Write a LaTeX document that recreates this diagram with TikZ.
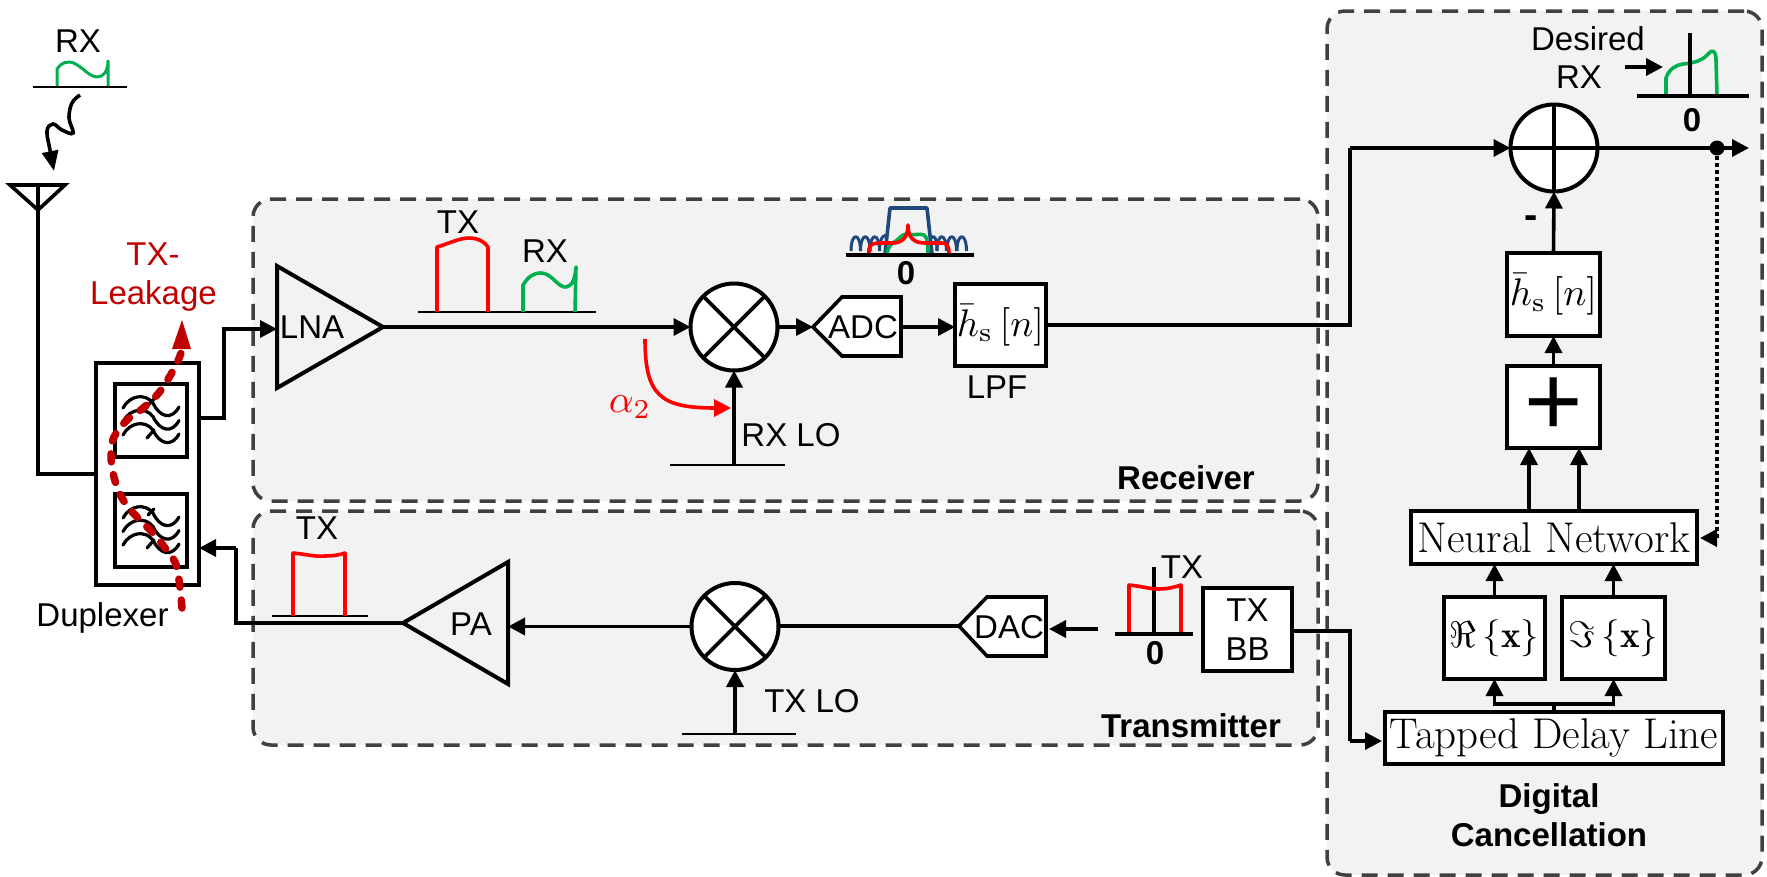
\documentclass[tikz,border=0pt]{standalone}
\usepackage{fontspec}
\setsansfont{Liberation Sans}
\usetikzlibrary{arrows.meta,calc}
\definecolor{grpfill}{HTML}{F2F2F2}
\definecolor{grpline}{HTML}{404040}
\definecolor{leak}{HTML}{C00000}
\definecolor{sgreen}{HTML}{00B050}
\definecolor{sred}{HTML}{FF0000}
\definecolor{sblue}{HTML}{1F497D}
\tikzset{
  grp/.style={draw=grpline,fill=grpfill,line width=3.5pt,rounded corners=18pt,dash pattern=on 16pt off 10pt,inner sep=0pt,outer sep=0pt},
  boxn/.style={draw=black,fill=white,line width=4pt,inner sep=0pt,outer sep=0pt,line join=miter},
  circn/.style={circle,draw=black,fill=white,line width=4pt,minimum size=87pt,inner sep=0pt,outer sep=0pt},
  wire/.style={line width=3.6pt,line join=miter},
  arr/.style={line width=3.6pt,line join=miter,-{Triangle[length=17pt,width=17pt]}},
  poly/.style={draw=black,line width=4pt,line join=miter},
  lab/.style={font=\sffamily\fontsize{33}{33}\selectfont,inner sep=0pt,text height=23.6pt,text depth=0pt},
  blab/.style={font=\sffamily\bfseries\fontsize{33}{33}\selectfont,inner sep=0pt,text height=23.6pt,text depth=0pt},
  rmlab/.style={font=\fontsize{43}{43}\selectfont},
  base/.style={line width=2pt},
  basethick/.style={line width=4pt},
  sp/.style={line width=3.6pt,line join=round},
}
\newcommand{\fwaves}[1]{%
  \begin{scope}[shift={(0,#1)}]
    \foreach \dy in {0,13.5,27}{
      \draw[line width=3.2pt,line cap=round] (123,{408+\dy}) .. controls (130,{395+\dy}) and (145,{393+\dy}) .. (153,{403+\dy}) .. controls (160,{418+\dy}) and (172,{420+\dy}) .. (179,{407+\dy});
    }
    \draw[line width=3.2pt,line cap=round] (154,399) -- (148,405);
    \draw[line width=3.2pt,line cap=round] (154,430) -- (147,438);
  \end{scope}}
\begin{document}
\begin{tikzpicture}[x=1pt,y=-1pt]
\useasboundingbox (0,0) rectangle (1767,876);
% groups
\node[grp,minimum width=435pt,minimum height=864pt] (dig) at (1544.5,443) {};
\node[grp,minimum width=1065pt,minimum height=302pt] (rxg) at (785.5,350) {};
\node[grp,minimum width=1065pt,minimum height=234pt] (txg) at (785.5,628) {};
\node[blab] (rxt) at (1186,478) {Receiver};
\node[blab] (txt) at (1191,726) {Transmitter};
\node[blab] (dg1) at (1549,796) {Digital};
\node[blab] (dg2) at (1549,835) {Cancellation};

% antenna and incoming signal
\node[lab] (rxtop) at (78,41) {RX};
\coordinate (rb1) at (33,86.5); \coordinate (rb2) at (127,86.5);
\draw[base] (rb1) -- (rb2);
\draw[sp,sgreen,line width=3pt] (57,86) -- (57,69) .. controls (60,65) and (63,62) .. (69,62) .. controls (79,62) and (88,77) .. (97,77) .. controls (103,77) and (108,72) .. (108,61) -- (108,86);
\coordinate (ztop) at (80,95); \coordinate (ztip) at (54,171);
\draw[line width=3.6pt,-{Triangle[length=20pt,width=16pt]}] plot[smooth,tension=0.65] coordinates {(ztop) (72,103) (69,118) (73,133) (62,130) (53,124) (47,131) (50,150) (ztip)};
\coordinate (ant1) at (10,185); \coordinate (ant2) at (65,185); \coordinate (ant3) at (38,210);
\draw[poly,line width=3.6pt] (ant1) -- (ant2) -- (ant3) -- cycle;
\coordinate (anttop) at (38,185); \coordinate (antcorner) at (38,474);

% duplexer
\node[boxn,minimum width=103pt,minimum height=222pt] (dup) at (147.5,474) {};
\node[boxn,minimum width=72pt,minimum height=73pt] (f1) at (151,420.5) {};
\node[boxn,minimum width=72pt,minimum height=73pt] (f2) at (151,530.5) {};
\fwaves{0}\fwaves{110}
\draw[wire] (anttop) -- (antcorner) -- (dup.west);
\node[lab] (dupl) at (102.5,615) {Duplexer};

% LNA
\coordinate (l1) at (277,266); \coordinate (l2) at (383,327); \coordinate (l3) at (277,388);
\draw[poly] (l1) -- (l2) -- (l3) -- cycle;
\node[lab] (lna) at (312,327) {LNA};
\coordinate (dupo) at (199,418); \coordinate (dupc) at (224,418); \coordinate (lnai) at (277,329);
\draw[arr] (dupo) -- (dupc) -- (dupc |- lnai) -- (lnai);

% RX chain
\node[circn] (mrx) at (734,327) {};
\draw[line width=3.6pt] (mrx.45) -- (mrx.225) (mrx.135) -- (mrx.315);
\draw[arr] (l2) -- (mrx.west);
\coordinate (a1) at (813,327); \coordinate (a2) at (842,297); \coordinate (a3) at (901,297); \coordinate (a4) at (901,356); \coordinate (a5) at (842,356);
\draw[poly,fill=white,line width=3.6pt] (a1) -- (a2) -- (a3) -- (a4) -- (a5) -- cycle;
\node[lab] (adc) at (863,327) {ADC};
\draw[arr] (mrx.east) -- (a1);
\node[boxn,minimum width=91pt,minimum height=82pt] (lpf) at (1000.5,325) {\scalebox{3.85}{$\bar{h}_{\mathrm{s}}\,[n]$}};
\draw[arr] (a3 |- a1) -- (lpf.west |- a1);
\node[lab] (lpfl) at (997,387) {LPF};
% RX LO
\coordinate (lob1) at (670,465); \coordinate (lob2) at (785,465); \coordinate (lob) at (734,465);
\draw[base] (lob1) -- (lob2);
\draw[arr] (lob) -- (mrx.south);
\node[lab] (rxlo) at (791,435) {RX LO};
% alpha
\coordinate (al1) at (645,339); \coordinate (al2) at (731,408);
\draw[line width=3.6pt,sred,-{Triangle[length=17pt,width=17pt]}] (al1) .. controls (645,395) and (660,408) .. (al2);
\node[text=sred,inner sep=0pt] (alpha) at (630,407) {\scalebox{3.9}{$\alpha_2$}};
% RX spectra
\node[lab] (txs) at (458,222) {TX};
\node[lab] (rxs) at (545,251) {RX};
\coordinate (sb1) at (418,312); \coordinate (sb2) at (596,312);
\draw[base] (sb1) -- (sb2);
\draw[sp,sred] (437,312) -- (437,247) .. controls (450,243) and (460,238) .. (469,238) .. controls (478,238) and (485,242) .. (488,247) -- (488,312);
\draw[sp,sgreen] (523,312) -- (523,285) .. controls (528,277) and (533,273) .. (541,273) .. controls (552,273) and (558,288) .. (566,287) .. controls (572,286) and (575,280) .. (576,267) -- (575,312);
% ADC spectrum
\coordinate (ab1) at (846,255); \coordinate (ab2) at (974,255);
\draw[sp,sblue] (885,254) -- (890,208) -- (927,208) -- (932,254);
\foreach \x in {851,860.5,870}{\draw[sp,sblue,line width=3pt] (\x,251) .. controls (\x,232) and (\x+9.5,232) .. (\x+9.5,251);}
\draw[sp,sblue,line width=3pt] (879.5,251) .. controls (879.5,236) and (885,234) .. (887,236);
\foreach \x in {937,947,957}{\draw[sp,sblue,line width=3pt] (\x,251) .. controls (\x,232) and (\x+9.5,232) .. (\x+9.5,251);}
\draw[sp,sblue,line width=3pt] (931,238) .. controls (934,234) and (937,238) .. (937,251);
\draw[sp,sgreen] (887,254) .. controls (888,246) and (892,243) .. (896,241) .. controls (900,238) and (902,234) .. (907,234) .. controls (914,236) and (920,233) .. (924,235) .. controls (928,238) and (928,244) .. (928,254);
\draw[sp,sred] (869,254) -- (869,249) .. controls (870,244) and (874,243) .. (880,243) -- (892,243) .. controls (902,243) and (908,238) .. (908,225) .. controls (908,238) and (914,243) .. (925,243) -- (942,243) .. controls (947,243) and (949,246) .. (949,254);
\draw[basethick] (ab1) -- (ab2);
\node[blab] (adc0) at (906,273) {0};

% digital chain top
\node[circn] (sum) at (1554,148) {};
\draw[line width=3.6pt] (sum.north) -- (sum.south) (sum.west) -- (sum.east);
\coordinate (upc) at (1350,325); \coordinate (upd) at (1350,148);
\draw[wire] (lpf.east) -- (upc) -- (upd);
\draw[arr] (upd) -- (sum.west);
\coordinate (outend) at (1749,148);
\draw[arr] (sum.east) -- (outend);
\node[circle,fill=black,minimum size=15pt,inner sep=0pt,outer sep=0pt] (dot) at (1717,148) {};
\node[lab] (des1) at (1588,39) {Desired};
\node[lab] (des2) at (1579,77) {RX};
\coordinate (da1) at (1625,67); \coordinate (da2) at (1663,67);
\draw[arr] (da1) -- (da2);
\coordinate (db1) at (1637,96); \coordinate (db2) at (1749,96); \coordinate (dv1) at (1690,33); \coordinate (dv2) at (1690,96);
\draw[sp,sgreen] (1666,96) -- (1666,78) .. controls (1669,69) and (1676,65) .. (1683,64) .. controls (1695,63) and (1703,60) .. (1708,54) .. controls (1712,49) and (1716,50) .. (1716,60) -- (1717,96);
\draw[line width=3.6pt] (dv1) -- (dv2);
\draw[basethick] (db1) -- (db2);
\node[blab] (d0) at (1692,120) {0};
\node[anchor=base,inner sep=0pt,font=\sffamily\bfseries\fontsize{40}{40}\selectfont] (minus) at (1531,228) {-};

\node[boxn,minimum width=93pt,minimum height=83pt] (hb) at (1553.5,294.5) {\scalebox{3.85}{$\bar{h}_{\mathrm{s}}\,[n]$}};
\draw[arr] (hb.north) -- (sum.south);
\node[boxn,minimum width=93pt,minimum height=82pt,font=\sffamily\fontsize{100}{100}\selectfont] (plusb) at (1553.5,407) {+};
\draw[arr] (plusb.north) -- (hb.south);
\node[boxn,minimum width=286pt,minimum height=53pt,rmlab] (nn) at (1554,537.5) {Neural Network};
\coordinate (n1) at (1529,511); \coordinate (n2) at (1579,511);
\draw[arr] (n1) -- (n1 |- plusb.south);
\draw[arr] (n2) -- (n2 |- plusb.south);
\node[boxn,minimum width=101pt,minimum height=82pt] (re) at (1494.5,638) {\scalebox{3.7}{$\Re\,\{\mathbf{x}\}$}};
\node[boxn,minimum width=103pt,minimum height=82pt] (im) at (1613.5,638) {\scalebox{3.7}{$\Im\,\{\mathbf{x}\}$}};
\draw[arr] (re.north) -- (re.north |- nn.south);
\draw[arr] (im.north) -- (im.north |- nn.south);
\node[boxn,minimum width=338pt,minimum height=52pt,rmlab] (tdl) at (1554,738) {Tapped Delay Line};
\coordinate (tee) at (1554,704);
\draw[wire] (tdl.north) -- (tee);
\draw[arr] (tee) -| (re.south);
\draw[arr] (tee) -| (im.south);
% feedback
\coordinate (fbc) at (1717,538);
\draw[line width=3.6pt,dash pattern=on 4pt off 3pt] (dot.south) -- (fbc);
\coordinate (fbt) at (1700,538);
\draw[arr] (fbc) -- (fbt);

% TX chain
\node[boxn,minimum width=89pt,minimum height=83pt,align=center,font=\sffamily\fontsize{33}{39}\selectfont] (bb) at (1247.5,629.5) {TX\\BB};
\coordinate (bbo) at (1292,631); \coordinate (bbc) at (1350,631); \coordinate (bbd) at (1350,741);
\draw[wire] (bbo) -- (bbc) -- (bbd);
\coordinate (tdli) at (1382,741);
\draw[arr] (bbd) -- (tdli);
\coordinate (d1) at (959,626); \coordinate (d2) at (987,597); \coordinate (d3) at (1046,597); \coordinate (d4) at (1046,656); \coordinate (d5) at (987,656);
\draw[poly,fill=white,line width=3.6pt] (d1) -- (d2) -- (d3) -- (d4) -- (d5) -- cycle;
\node[lab] (dac) at (1009,627) {DAC};
\coordinate (ts) at (1098,629); \coordinate (te) at (1049,629);
\draw[arr] (ts) -- (te);
\coordinate (tb1) at (1115,634); \coordinate (tb2) at (1193,634); \coordinate (tv1) at (1154,567); \coordinate (tv2) at (1154,634);
\draw[line width=3.6pt] (tv1) -- (tv2);
\draw[sp,sred] (1129,634) -- (1129,585) .. controls (1140,586) and (1150,589) .. (1158,589) .. controls (1168,589) and (1175,587) .. (1181,585) -- (1181,634);
\draw[basethick] (tb1) -- (tb2);
\node[lab] (txbbs) at (1182,567) {TX};
\node[blab] (tx0) at (1155,653) {0};
\node[circn] (mtx) at (735,626.5) {};
\draw[line width=3.6pt] (mtx.45) -- (mtx.225) (mtx.135) -- (mtx.315);
\draw[wire] (d1) -- (mtx.east |- d1);
\coordinate (p1) at (403,623); \coordinate (p2) at (508,562); \coordinate (p3) at (508,684);
\draw[poly] (p1) -- (p2) -- (p3) -- cycle;
\node[lab] (pa) at (471,624) {PA};
\draw[arr] (mtx.west) -- (p2 |- mtx.west);
\coordinate (tlb1) at (682,734); \coordinate (tlb2) at (796,734); \coordinate (tlb) at (735,734);
\draw[base] (tlb1) -- (tlb2);
\draw[arr] (tlb) -- (mtx.south);
\node[lab] (txlo) at (812,701) {TX LO};
\coordinate (pb1) at (272,616); \coordinate (pb2) at (368,616);
\draw[base] (pb1) -- (pb2);
\draw[sp,sred] (293,616) -- (293,553) .. controls (305,554) and (315,557) .. (325,556) .. controls (332,556) and (340,555) .. (345,553) -- (345,616);
\node[lab] (txp) at (317,528) {TX};
\coordinate (pc) at (236,623); \coordinate (pd) at (236,548); \coordinate (dupi) at (199,548);
\draw[wire] (p1) -- (pc) -- (pd);
\draw[arr] (pd) -- (dupi);

% leakage
\node[lab,text=leak] (leak1) at (153,254) {TX-};
\node[lab,text=leak] (leak2) at (153.5,293) {Leakage};
\draw[leak,line width=7.5pt,line cap=round,dash pattern=on 8pt off 13pt] plot[smooth,tension=0.6] coordinates {(182,608) (177,568) (168,552) (153,533) (140,520) (128,507) (119,492) (113,473) (111,454) (114,437) (127,420) (142,409) (157,395) (167,381) (177,363) (182,350)};
\coordinate (lk1) at (172,349); \coordinate (lk2) at (191,349); \coordinate (lk3) at (182,320);
\fill[leak] (lk1) -- (lk2) -- (lk3) -- cycle;
\end{tikzpicture}
\end{document}
